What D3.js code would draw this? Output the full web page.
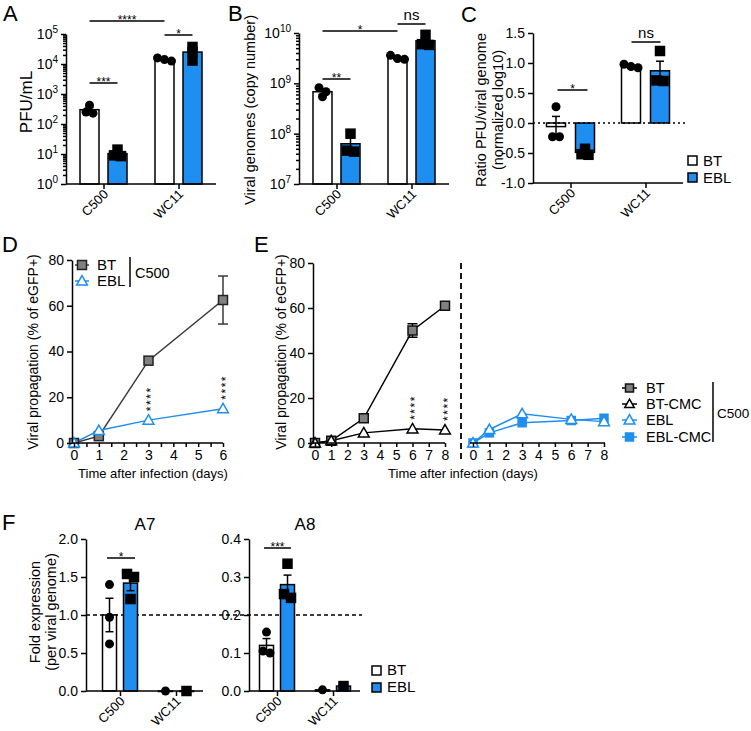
<!DOCTYPE html>
<html><head><meta charset="utf-8">
<script src="https://cdn.jsdelivr.net/npm/d3@7"></script>
<style>body{margin:0;background:#fff}</style>
</head><body>
<script>
// ---------------- DATA ----------------
const categories = ["C500", "WC11"];
// Panel A: PFU/mL
const pfuBT = [300, 14000];
const pfuBTsem = [60, 1000];
const pfuBTpts = [[420, 250, 230], [16000, 14000, 12500]];
const pfuEBL = [10.3, 25000];
const pfuEBLsem = [1.9, 7000];
const pfuEBLpts = [[14, 8.5, 9], [37000, 25000, 13000]];
const pfuTicks = [0, 1, 2, 3, 4, 5];
// Panel B: viral genomes
const genBT = [6.8e8, 3.2e9];
const genBTsem = [0.8e8, 0.2e9];
const genBTpts = [[8.2e8, 6.8e8, 5.4e8], [3.6e9, 3.1e9, 3.0e9]];
const genEBL = [6.3e7, 7.0e9];
const genEBLsem = [1.9e7, 1.1e9];
const genEBLpts = [[1.0e8, 4.6e7, 4.4e7], [9.2e9, 6.0e9, 5.8e9]];
const genTicks = [7, 8, 9, 10];
// Panel C: ratio (normalized log10)
const ratioBT = [-0.06, 0.94];
const ratioBTsem = [0.17, 0.02];
const ratioBTpts = [[0.27, -0.23, -0.23], [0.98, 0.94, 0.92]];
const ratioEBL = [-0.49, 0.87];
const ratioEBLsem = [0.03, 0.16];
const ratioEBLpts = [[-0.43, -0.52, -0.53], [1.2, 0.71, 0.70]];
const ratioTicks = [-1.0, -0.5, 0.0, 0.5, 1.0, 1.5];
// Panel D: propagation (C500)
const dDays = [0, 1, 3, 6];
const dBT = [0, 3, 36, 62.5];
const dBTsem = [0, 0.4, 0.8, 10.5];
const dEBL = [0, 5.5, 10, 15];
const dEBLsem = [0, 0.3, 0.5, 0.7];
const dStarDays = [3, 6];
// Panel E
const eDays = [0, 1, 3, 6, 8];
const eBT = [0, 1, 11, 50, 61];
const eBTsem = [0, 0.3, 0.6, 3, 0.8];
const eBTCMC = [0, 1, 4.5, 6.3, 5.8];
const eEBL = [0, 6, 13, 10.5, 9.5];
const eEBLCMC = [0, 4.5, 9, 10, 11];
const eStarDays = [6, 8];
const propTicks = [0, 20, 40, 60, 80];
// Panel F
const a7BT = [1.0, 0.0];
const a7BTsem = [0.22, 0];
const a7BTpts = [[1.40, 0.97, 0.62], [0.0]];
const a7EBL = [1.42, 0.0];
const a7EBLsem = [0.10, 0];
const a7EBLpts = [[1.54, 1.50, 1.21], [0.0]];
const a8BT = [0.12, 0.003];
const a8BTsem = [0.018, 0];
const a8BTpts = [[0.155, 0.105, 0.10], [0.003]];
const a8EBL = [0.28, 0.013];
const a8EBLsem = [0.025, 0.002];
const a8EBLpts = [[0.335, 0.255, 0.245], [0.013]];
const a7Ticks = [0, 0.5, 1.0, 1.5, 2.0];
const a8Ticks = [0, 0.1, 0.2, 0.3, 0.4];

// ---------------- STYLE ----------------
const FONT = "Arial, 'Liberation Sans', Helvetica, sans-serif";
const BLUE = "#1e8ff0";
const GRAY = "#808080";
const svg = d3.select("body").append("svg").attr("width", 751).attr("height", 731)
  .attr("font-family", FONT);

function txt(x, y, s, size, opts = {}) {
  const t = svg.append("text").attr("x", x).attr("y", y).attr("font-size", size)
    .attr("fill", "#000").text(s);
  if (opts.anchor) t.attr("text-anchor", opts.anchor);
  if (opts.rot) t.attr("transform", `rotate(${opts.rot},${x},${y})`);
  if (opts.dy) t.attr("dy", opts.dy);
  return t;
}
function hline(x1, x2, y, w = 1.5, dash = null, color = "#000") {
  const l = svg.append("line").attr("x1", x1).attr("x2", x2).attr("y1", y).attr("y2", y)
    .attr("stroke", color).attr("stroke-width", w);
  if (dash) l.attr("stroke-dasharray", dash);
  return l;
}
function vline(x, y1, y2, w = 1.5, dash = null, color = "#000") {
  const l = svg.append("line").attr("x1", x).attr("x2", x).attr("y1", y1).attr("y2", y2)
    .attr("stroke", color).attr("stroke-width", w);
  if (dash) l.attr("stroke-dasharray", dash);
  return l;
}
function styleAxis(g, fs) {
  g.attr("font-family", FONT).attr("font-size", fs);
  g.selectAll("path,line").attr("stroke", "#000").attr("stroke-width", 1.5);
  g.selectAll("text").attr("fill", "#000");
}
function yAxis(x0, y, ticks, fmt, fs = 14) {
  const g = svg.append("g").attr("transform", `translate(${x0},0)`)
    .call(d3.axisLeft(y).tickValues(ticks).tickFormat(fmt).tickSize(5).tickSizeOuter(0).tickPadding(3));
  styleAxis(g, fs);
  return g;
}
function logYAxis(x0, y, exps) {
  const majors = exps.map(e => Math.pow(10, e));
  const minors = [];
  exps.slice(0, -1).forEach(e => { for (let k = 2; k <= 9; k++) minors.push(k * Math.pow(10, e)); });
  const g = svg.append("g").attr("transform", `translate(${x0},0)`)
    .call(d3.axisLeft(y).tickValues(majors).tickSize(5).tickSizeOuter(0).tickPadding(3).tickFormat(""));
  styleAxis(g, 14);
  g.selectAll(".tick text").each(function (d) {
    const t = d3.select(this);
    t.append("tspan").text("10");
    t.append("tspan").attr("dy", "-0.55em").attr("font-size", 10).text(Math.round(Math.log10(d)));
  }).attr("x", -8);
  const g2 = svg.append("g").attr("transform", `translate(${x0},0)`)
    .call(d3.axisLeft(y).tickValues(minors).tickSize(3).tickSizeOuter(0).tickFormat(""));
  g2.select(".domain").remove();
  styleAxis(g2, 10);
}
function catAxis(x, y0, x1, x2) {
  const g = svg.append("g").attr("transform", `translate(0,${y0})`)
    .call(d3.axisBottom(x).tickSize(5).tickSizeOuter(0));
  g.select(".domain").remove();
  styleAxis(g, 13);
  g.selectAll(".tick text").attr("x", 0).attr("y", 0).attr("dy", 0)
    .attr("text-anchor", "end").attr("transform", "translate(5,11) rotate(-45)");
  hline(x1, x2, y0);
}
function spread(ys, gap = 5, step = 7) {
  const idx = ys.map((v, i) => i).sort((a, b) => ys[a] - ys[b]);
  const offs = new Array(ys.length).fill(0);
  let cl = [idx[0]];
  const flush = () => { const n = cl.length; cl.forEach((k, j) => offs[k] = (j - (n - 1) / 2) * step); };
  for (let j = 1; j < idx.length; j++) {
    if (ys[idx[j]] - ys[idx[j - 1]] < gap) cl.push(idx[j]); else { flush(); cl = [idx[j]]; }
  }
  flush();
  return offs;
}
function marker(shape, cx, cy, fill, stroke, size) {
  if (shape === "circle") {
    svg.append("circle").attr("cx", cx).attr("cy", cy).attr("r", size / 2).attr("fill", fill);
  } else if (shape === "square") {
    svg.append("rect").attr("x", cx - size / 2).attr("y", cy - size / 2).attr("width", size).attr("height", size)
      .attr("fill", fill).attr("stroke", stroke).attr("stroke-width", 1.5);
  } else if (shape === "tri") {
    const h = size;
    svg.append("path").attr("d", `M${cx},${cy - h * 0.6}L${cx + h * 0.6},${cy + h * 0.45}L${cx - h * 0.6},${cy + h * 0.45}Z`)
      .attr("fill", fill).attr("stroke", stroke).attr("stroke-width", 1.5);
  }
}
function errBar(cx, yTop, yBot, cap, color = "#000") {
  vline(cx, yTop, yBot, 1.5, null, color);
  hline(cx - cap / 2, cx + cap / 2, yTop, 1.5, null, color);
  hline(cx - cap / 2, cx + cap / 2, yBot, 1.5, null, color);
}
function barPanel(cfg) {
  const { x, y, base, off, bw, series, logScale, msize } = cfg;
  series.forEach((s, si) => {
    const dx = si === 0 ? -off : off;
    categories.forEach((c, i) => {
      const cx = x(c) + dx, y0 = y(base), y1 = y(s.mean[i]);
      svg.append("rect").attr("x", cx - bw / 2).attr("y", Math.min(y0, y1)).attr("width", bw)
        .attr("height", Math.max(0.5, Math.abs(y1 - y0))).attr("fill", s.fill)
        .attr("stroke", "#000").attr("stroke-width", 1.5);
    });
  });
  series.forEach((s, si) => {
    const dx = si === 0 ? -off : off;
    categories.forEach((c, i) => {
      if (!s.sem[i]) return;
      const cx = x(c) + dx;
      let lo = s.mean[i] - s.sem[i];
      if (logScale && lo <= 0) lo = s.mean[i] * 0.5;
      errBar(cx, y(s.mean[i] + s.sem[i]), y(lo), 8);
    });
  });
  series.forEach((s, si) => {
    const dx = si === 0 ? -off : off;
    categories.forEach((c, i) => {
      const cx = x(c) + dx;
      const ys = s.pts[i].map(v => y(v));
      const offs = spread(ys);
      ys.forEach((py, k) => marker(s.shape, cx + offs[k], py, "#000", "#000", msize || 9));
    });
  });
}
function sig(x1, x2, y, label) {
  hline(x1, x2, y);
  if (label === "ns") txt((x1 + x2) / 2, y - 4, "ns", 15, { anchor: "middle" });
  else txt((x1 + x2) / 2, y + 3, label, 12, { anchor: "middle" });
}
function vStars(px, yBot) {
  svg.append("text").attr("transform", `translate(${px + 6.5},${yBot}) rotate(-90)`)
    .attr("font-size", 12).attr("letter-spacing", 1.5).attr("fill", "#000").text("****");
}

// ---------------- PANEL LETTERS ----------------
txt(3, 21, "A", 22); txt(228, 21, "B", 22); txt(461, 22, "C", 22);
txt(2, 252, "D", 22); txt(254, 252, "E", 22); txt(2, 530, "F", 22);

// ---------------- PANEL A ----------------
{
  const y = d3.scaleLog().domain([1, 1e5]).range([184, 34]);
  const x = d3.scalePoint().domain(categories).range([66, 216]).padding(0.5);
  barPanel({ x, y, base: 1, off: 14, bw: 19, logScale: true, series: [
    { mean: pfuBT, sem: pfuBTsem, pts: pfuBTpts, fill: "#fff", shape: "circle" },
    { mean: pfuEBL, sem: pfuEBLsem, pts: pfuEBLpts, fill: BLUE, shape: "square" }] });
  logYAxis(66, y, pfuTicks);
  catAxis(x, 184, 66, 216);
  txt(32, 102, "PFU/mL", 17, { anchor: "middle", rot: -90 });
  sig(x("C500") - 14, x("WC11") - 14, 21, "****");
  sig(x("C500") - 14, x("C500") + 14, 83, "***");
  sig(x("WC11") - 14, x("WC11") + 14, 35, "*");
}
// ---------------- PANEL B ----------------
{
  const y = d3.scaleLog().domain([1e7, 1e10]).range([184, 33]);
  const x = d3.scalePoint().domain(categories).range([299, 449]).padding(0.5);
  barPanel({ x, y, base: 1e7, off: 14, bw: 19, logScale: true, series: [
    { mean: genBT, sem: genBTsem, pts: genBTpts, fill: "#fff", shape: "circle" },
    { mean: genEBL, sem: genEBLsem, pts: genEBLpts, fill: BLUE, shape: "square" }] });
  logYAxis(299, y, genTicks);
  catAxis(x, 184, 299, 449);
  txt(255, 110, "Viral genomes (copy number)", 14.5, { anchor: "middle", rot: -90 });
  sig(x("C500") - 14, x("WC11") - 14, 31, "*");
  sig(x("C500") - 14, x("C500") + 14, 79, "**");
  sig(x("WC11") - 14, x("WC11") + 14, 24, "ns");
}
// ---------------- PANEL C ----------------
{
  const y = d3.scaleLinear().domain([-1, 1.5]).range([183, 33]);
  const x = d3.scalePoint().domain(categories).range([533, 683]).padding(0.5);
  barPanel({ x, y, base: 0, off: 14.5, bw: 19, series: [
    { mean: ratioBT, sem: ratioBTsem, pts: ratioBTpts, fill: "#fff", shape: "circle" },
    { mean: ratioEBL, sem: ratioEBLsem, pts: ratioEBLpts, fill: BLUE, shape: "square" }] });
  hline(533, 685, y(0), 1.5, "2,3");
  yAxis(533, y, ratioTicks, d => d.toFixed(1), 14);
  catAxis(x, 183, 533, 683);
  txt(486, 110, "Ratio PFU/viral genome", 14.5, { anchor: "middle", rot: -90 });
  txt(503, 110, "(normalized log10)", 14.5, { anchor: "middle", rot: -90 });
  sig(x("C500") - 13, x("C500") + 17, 90, "*");
  sig(x("WC11") - 14, x("WC11") + 15, 42, "ns");
  // legend
  svg.append("rect").attr("x", 688).attr("y", 156).attr("width", 9).attr("height", 9).attr("fill", "#fff").attr("stroke", "#000").attr("stroke-width", 1.5);
  svg.append("rect").attr("x", 688).attr("y", 173).attr("width", 9).attr("height", 9).attr("fill", BLUE).attr("stroke", "#000").attr("stroke-width", 1.5);
  txt(703, 166, "BT", 15); txt(703, 183, "EBL", 15);
}
// ---------------- PANEL D ----------------
{
  const x = d3.scaleLinear().domain([0, 6]).range([74, 223]);
  const y = d3.scaleLinear().domain([0, 80]).range([443, 260]);
  const line = d3.line().x((d, i) => x(dDays[i])).y(d => y(d));
  svg.append("path").datum(dBT).attr("d", line).attr("fill", "none").attr("stroke", "#3a3a3a").attr("stroke-width", 1.5);
  svg.append("path").datum(dEBL).attr("d", line).attr("fill", "none").attr("stroke", BLUE).attr("stroke-width", 1.5);
  dBT.forEach((v, i) => { if (dBTsem[i] > 1) errBar(x(dDays[i]), y(v + dBTsem[i]), y(v - dBTsem[i]), 10, "#3a3a3a"); });
  dBT.forEach((v, i) => marker("square", x(dDays[i]), y(v), GRAY, "#222", 9));
  dEBL.forEach((v, i) => marker("tri", x(dDays[i]), y(v), "#fff", BLUE, 9));
  dStarDays.forEach((d, i) => vStars(x(d), y(dEBL[dDays.indexOf(d)]) - 9));
  const gx = svg.append("g").attr("transform", "translate(0,443)")
    .call(d3.axisBottom(x).tickValues(d3.range(0, 6.01, 0.5)).tickFormat(d => Number.isInteger(d) ? d : "").tickSize(4).tickSizeOuter(0).tickPadding(3));
  gx.select(".domain").remove();
  styleAxis(gx, 14);
  hline(72, 223, 443);
  yAxis(72, y, propTicks, d => d, 14);
  txt(38, 352, "Viral propagation (% of eGFP+)", 14, { anchor: "middle", rot: -90 });
  txt(153, 478, "Time after infection (days)", 13, { anchor: "middle" });
  // legend
  hline(75, 89, 265, 1.5, null, "#3a3a3a"); marker("square", 82, 265, GRAY, "#222", 9);
  hline(75, 89, 281, 1.5, null, BLUE); marker("tri", 82, 281, "#fff", BLUE, 9);
  txt(97, 265, "BT", 15, { dy: "0.35em" }); txt(97, 281, "EBL", 15, { dy: "0.35em" });
  vline(130, 257, 287, 1.5);
  txt(135, 273, "C500", 14.5, { dy: "0.35em" });
}
// ---------------- PANEL E ----------------
{
  const xL = d3.scaleLinear().domain([0, 8]).range([315, 445]);
  const xR = d3.scaleLinear().domain([0, 8]).range([473, 604]);
  const y = d3.scaleLinear().domain([0, 80]).range([443, 263]);
  const lineL = d3.line().x((d, i) => xL(eDays[i])).y(d => y(d));
  const lineR = d3.line().x((d, i) => xR(eDays[i])).y(d => y(d));
  svg.append("path").datum(eBTCMC).attr("d", lineL).attr("fill", "none").attr("stroke", "#000").attr("stroke-width", 1.5);
  svg.append("path").datum(eBT).attr("d", lineL).attr("fill", "none").attr("stroke", "#000").attr("stroke-width", 1.5);
  eBT.forEach((v, i) => { if (eBTsem[i] > 1) errBar(xL(eDays[i]), y(v + eBTsem[i]), y(v - eBTsem[i]), 10); });
  eBT.forEach((v, i) => marker("square", xL(eDays[i]), y(v), GRAY, "#111", 9));
  eBTCMC.forEach((v, i) => marker("tri", xL(eDays[i]), y(v), "#fff", "#000", 9));
  eStarDays.forEach(d => vStars(xL(d), y(eBTCMC[eDays.indexOf(d)]) - 9));
  svg.append("path").datum(eEBLCMC).attr("d", lineR).attr("fill", "none").attr("stroke", BLUE).attr("stroke-width", 1.5);
  svg.append("path").datum(eEBL).attr("d", lineR).attr("fill", "none").attr("stroke", BLUE).attr("stroke-width", 1.5);
  eEBLCMC.forEach((v, i) => marker("square", xR(eDays[i]), y(v), BLUE, BLUE, 8));
  eEBL.forEach((v, i) => marker("tri", xR(eDays[i]), y(v), "#fff", BLUE, 9));
  [xL, xR].forEach(xs => {
    const g = svg.append("g").attr("transform", "translate(0,443)")
      .call(d3.axisBottom(xs).tickValues(d3.range(0, 9)).tickFormat(d => d).tickSize(4).tickSizeOuter(0).tickPadding(3));
    g.select(".domain").remove();
    styleAxis(g, 14);
  });
  hline(313, 445, 443); hline(470, 605, 443);
  yAxis(313, y, propTicks, d => d, 14);
  vline(461, 263, 462, 1.8, "6,4");
  txt(286, 352, "Viral propagation (% of eGFP+)", 14, { anchor: "middle", rot: -90 });
  txt(463, 478, "Time after infection (days)", 13, { anchor: "middle" });
  // legend
  const ly = [388, 404, 420, 437];
  hline(622, 637, ly[0]); marker("square", 629.5, ly[0], GRAY, "#111", 8);
  hline(622, 637, ly[1]); marker("tri", 629.5, ly[1], "#fff", "#000", 8);
  hline(622, 637, ly[2], 1.5, null, BLUE); marker("tri", 629.5, ly[2], "#fff", BLUE, 9);
  hline(622, 637, ly[3], 1.5, null, BLUE); marker("square", 629.5, ly[3], BLUE, BLUE, 8);
  ["BT", "BT-CMC", "EBL", "EBL-CMC"].forEach((s, i) => txt(646, ly[i], s, 14.5, { dy: "0.35em" }));
  vline(713, 382, 442, 1.5);
  txt(717, 413, "C500", 13.5, { dy: "0.35em" });
}
// ---------------- PANEL F ----------------
{
  const y7 = d3.scaleLinear().domain([0, 2]).range([691, 539]);
  const x7 = d3.scalePoint().domain(categories).range([92, 204]).padding(0.5);
  const y8 = d3.scaleLinear().domain([0, 0.4]).range([691, 539]);
  const x8 = d3.scalePoint().domain(categories).range([249, 361]).padding(0.5);
  hline(86, 362, y7(1), 1.5, "4,3");
  barPanel({ x: x7, y: y7, base: 0, off: 10.5, bw: 14, msize: 9, series: [
    { mean: a7BT, sem: a7BTsem, pts: a7BTpts, fill: "#fff", shape: "circle" },
    { mean: a7EBL, sem: a7EBLsem, pts: a7EBLpts, fill: BLUE, shape: "square" }] });
  barPanel({ x: x8, y: y8, base: 0, off: 10.5, bw: 14, msize: 9, series: [
    { mean: a8BT, sem: a8BTsem, pts: a8BTpts, fill: "#fff", shape: "circle" },
    { mean: a8EBL, sem: a8EBLsem, pts: a8EBLpts, fill: BLUE, shape: "square" }] });
  yAxis(86, y7, a7Ticks, d => d.toFixed(1), 14);
  yAxis(249, y8, a8Ticks, d => d.toFixed(1), 14);
  catAxis(x7, 691, 86, 203);
  catAxis(x8, 691, 249, 360);
  txt(145, 530, "A7", 17, { anchor: "middle" });
  txt(305, 530, "A8", 17, { anchor: "middle" });
  sig(x7("C500") - 13, x7("C500") + 15, 558, "*");
  sig(x8("C500") - 13, x8("C500") + 14, 548, "***");
  txt(40, 612, "Fold expression", 14.5, { anchor: "middle", rot: -90 });
  txt(56, 612, "(per viral genome)", 14.5, { anchor: "middle", rot: -90 });
  svg.append("rect").attr("x", 372).attr("y", 666).attr("width", 9).attr("height", 9).attr("fill", "#fff").attr("stroke", "#000").attr("stroke-width", 1.5);
  svg.append("rect").attr("x", 372).attr("y", 683).attr("width", 9).attr("height", 9).attr("fill", BLUE).attr("stroke", "#000").attr("stroke-width", 1.5);
  txt(387, 675, "BT", 15); txt(387, 692, "EBL", 15);
}
</script>
</body></html>
